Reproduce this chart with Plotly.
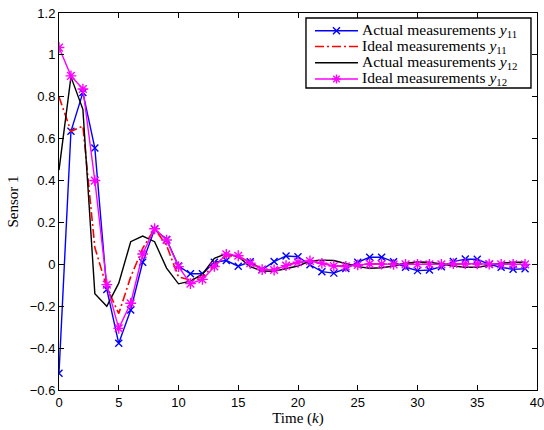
import plotly.graph_objects as go

k = list(range(40))

actual_y11 = [-0.52, 0.635, 0.82, 0.555, -0.12, -0.377, -0.218, 0.01, 0.167, 0.119,
              -0.008, -0.045, -0.045, 0.01, 0.018, -0.009, 0.012, -0.025, 0.013, 0.04,
              0.036, -0.002, -0.035, -0.042, -0.02, 0.01, 0.034, 0.034, 0.012, -0.014,
              -0.03, -0.027, -0.011, 0.013, 0.025, 0.024, 0.0, -0.014, -0.024, -0.021]

ideal_y11 = [0.80, 0.635, 0.66, 0.08, -0.11, -0.235, -0.06, 0.076, 0.17, 0.09,
             -0.06, -0.075, -0.06, -0.003, 0.04, 0.04, 0.008, -0.022, -0.025, -0.005,
             0.01, 0.015, 0.006, -0.006, -0.009, -0.004, 0.002, 0.002, 0.001, 0.0,
             0.0, 0.0, 0.0, 0.002, 0.003, 0.002, 0.001, 0.0, 0.0, 0.0]

actual_y12 = [0.45, 0.895, 0.74, -0.14, -0.2, -0.09, 0.108, 0.135, 0.108, -0.018,
              -0.093, -0.08, -0.047, 0.029, 0.051, 0.036, -0.011, -0.032, -0.033, -0.022,
              -0.008, 0.016, 0.02, 0.018, 0.004, -0.011, -0.019, -0.016, -0.008, 0.005,
              0.011, 0.01, 0.002, -0.008, -0.014, -0.014, -0.005, 0.005, 0.01, 0.01]

ideal_y12 = [1.035, 0.90, 0.837, 0.40, -0.097, -0.306, -0.186, 0.049, 0.17, 0.116,
             -0.011, -0.092, -0.072, -0.01, 0.048, 0.041, 0.005, -0.025, -0.027, -0.006,
             0.01, 0.016, 0.005, -0.008, -0.01, -0.003, 0.002, 0.001, 0.0, 0.0,
             0.0, 0.0, 0.0, 0.003, 0.003, 0.002, 0.001, 0.0, 0.0, 0.0]

series_names = ["Actual measurements <i>y</i><sub>11</sub>",
                "Ideal measurements <i>y</i><sub>11</sub>",
                "Actual measurements <i>y</i><sub>12</sub>",
                "Ideal measurements <i>y</i><sub>12</sub>"]

x_ticks = [0, 5, 10, 15, 20, 25, 30, 35, 40]
y_ticks = [-0.6, -0.4, -0.2, 0, 0.2, 0.4, 0.6, 0.8, 1.0, 1.2]
y_tick_text = ["\u22120.6", "\u22120.4", "\u22120.2", "0", "0.2", "0.4", "0.6", "0.8", "1", "1.2"]

serif = "Liberation Serif, DejaVu Serif, serif"
sans = "Liberation Sans, Arial, sans-serif"

BLUE, RED, BLACK, MAGENTA = "#0000ff", "#ff0000", "#000000", "#ff00ff"
DASHDOT = "9px,3px,2px,3px"

fig = go.Figure()
fig.add_trace(go.Scatter(
    x=k, y=actual_y11, mode="lines+markers", name=series_names[0],
    line=dict(color=BLUE, width=1.4),
    marker=dict(symbol="x-thin-open", size=7, line=dict(color=BLUE, width=1.4), color=BLUE)))
fig.add_trace(go.Scatter(
    x=k, y=ideal_y11, mode="lines", name=series_names[1],
    line=dict(color=RED, width=1.6, dash=DASHDOT)))
fig.add_trace(go.Scatter(
    x=k, y=actual_y12, mode="lines", name=series_names[2],
    line=dict(color=BLACK, width=1.4)))
fig.add_trace(go.Scatter(
    x=k, y=ideal_y12, mode="lines+markers", name=series_names[3],
    line=dict(color=MAGENTA, width=1.4),
    marker=dict(symbol="asterisk-open", size=9, line=dict(color=MAGENTA, width=1.4), color=MAGENTA)))

axis_common = dict(
    showline=True, linecolor="black", linewidth=1, mirror="ticks",
    ticks="inside", ticklen=5, tickcolor="black", tickwidth=1,
    showgrid=False, zeroline=False, automargin=False, ticklabeloverflow="allow",
    tickfont=dict(family=sans, size=13, color="black"),
)

fig.update_xaxes(range=[0, 40], tickvals=x_ticks, ticktext=[str(v) for v in x_ticks],
                 title=dict(text="Time (<i>k</i>)", font=dict(family=serif, size=15, color="black"), standoff=1),
                 **axis_common)
fig.update_yaxes(range=[-0.6, 1.2], tickvals=y_ticks, ticktext=y_tick_text,
                 title=dict(text="Sensor 1", font=dict(family=serif, size=15, color="black"), standoff=7),
                 **axis_common)

# ---- legend box drawn like MATLAB's (compact rows) ----
shapes = []
annotations = []
box = dict(x0=0.5167, x1=0.9874, y0=0.801, y1=0.9867)
shapes.append(dict(type="rect", xref="paper", yref="paper", **box,
                   line=dict(color="black", width=1.4), fillcolor="white", layer="above"))
row_y = [0.953, 0.911, 0.868, 0.825]
lx0, lx1, lmid, tx = 0.5356, 0.6255, 0.5805, 0.6290
styles = [(BLUE, None, "x"), (RED, DASHDOT, None), (BLACK, None, None), (MAGENTA, None, "*")]
for (col, dash, mk), yy, name in zip(styles, row_y, series_names):
    ln = dict(color=col, width=1.6 if dash else 1.4)
    if dash:
        ln["dash"] = dash
    shapes.append(dict(type="line", xref="paper", yref="paper", x0=lx0, x1=lx1, y0=yy, y1=yy,
                       line=ln, layer="above"))
    segs = []
    if mk == "x":
        segs = [(-3.5, -3.5, 3.5, 3.5), (-3.5, 3.5, 3.5, -3.5)]
    elif mk == "*":
        segs = [(-4.5, 0, 4.5, 0), (0, -4.5, 0, 4.5), (-3.2, -3.2, 3.2, 3.2), (-3.2, 3.2, 3.2, -3.2)]
    for (a, b, c, d) in segs:
        shapes.append(dict(type="line", xref="paper", yref="paper",
                           xsizemode="pixel", ysizemode="pixel", xanchor=lmid, yanchor=yy,
                           x0=a, y0=b, x1=c, y1=d, line=dict(color=col, width=1.4), layer="above"))
    annotations.append(dict(xref="paper", yref="paper", x=tx, y=yy, xanchor="left", yanchor="middle",
                            text=name, showarrow=False,
                            font=dict(family=serif, size=15.5, color="black")))

fig.update_layout(
    width=544, height=430,
    margin=dict(l=59, r=7, t=13, b=40, autoexpand=False),
    paper_bgcolor="white", plot_bgcolor="white",
    showlegend=False,
    shapes=shapes, annotations=annotations,
)

fig.write_html("out.html", config={"displayModeBar": False},
               post_script="document.body.style.margin='0';document.body.style.padding='0';")
